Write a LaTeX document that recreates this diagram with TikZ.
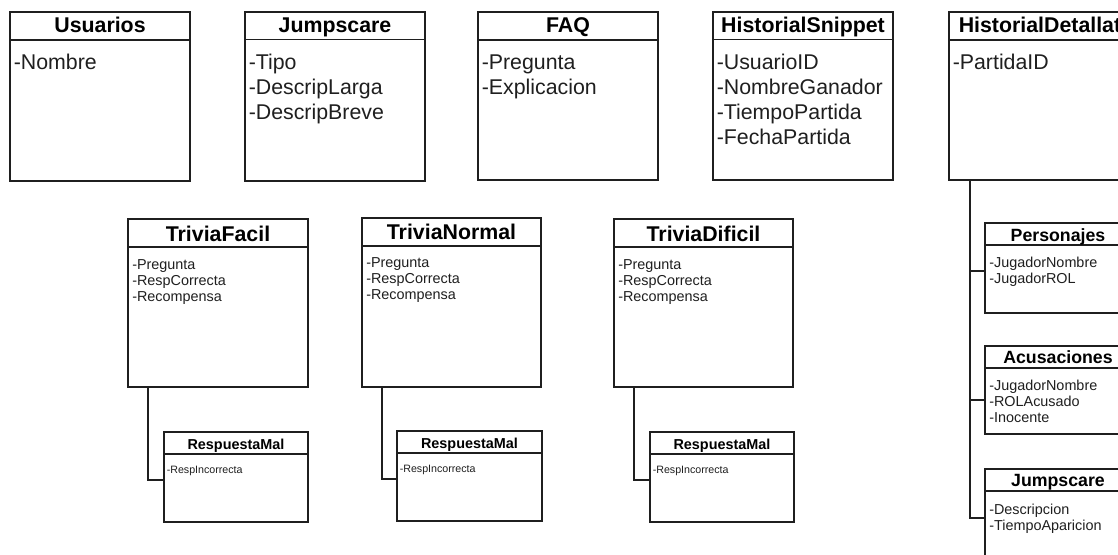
\documentclass[tikz,border=0pt]{standalone}
\usepackage{fontspec}
\setmainfont{Liberation Sans}
\usetikzlibrary{calc}

% class box: name, x, y, width, height, header height (all in px units)
\newcommand{\umlclass}[6]{%
  \node[classbox, minimum width={#4*0.75pt}, minimum height={#5*0.75pt}] (#1) at (#2,#3) {};
  \draw[line] ($(#1.north west)+(0,#6)$) -- ($(#1.north east)+(0,#6)$);
}
% attribute lines: box, style, dx, first baseline, spacing, list
\newcommand{\attrlist}[6]{%
  \foreach \a [count=\i from 0] in {#6}
    \node[#2] (#1-a\i) at ($(#1.north west)+(#3,#4+\i*#5)$) {\a};
}

\begin{document}
\begin{tikzpicture}[x=0.75pt,y=-0.75pt,
  line/.style={draw=black!88, line width=1.3pt},
  classbox/.style={line, fill=white, inner sep=0pt, outer sep=0pt, anchor=north west},
  bigtitle/.style={font=\bfseries\fontsize{16}{19}\selectfont, anchor=base, inner sep=0pt},
  midtitle/.style={font=\bfseries\fontsize{13.3}{16}\selectfont, anchor=base, inner sep=0pt},
  smalltitle/.style={font=\bfseries\fontsize{10.8}{13}\selectfont, anchor=base, inner sep=0pt},
  bigattr/.style={font=\fontsize{16}{19}\selectfont, anchor=base west, inner sep=0pt, text=black!88},
  midattr/.style={font=\fontsize{10.8}{12}\selectfont, anchor=base west, inner sep=0pt, text=black!88},
  smallattr/.style={font=\fontsize{8}{9}\selectfont, anchor=base west, inner sep=0pt, text=black!88},
]
\useasboundingbox (0,0) rectangle (1118,555);
\fill[white] (0,0) rectangle (1118,555);
\clip (0,0) rectangle (1118,555);

% top row
\umlclass{usu}{10}{12}{180}{169}{28}
\node[bigtitle] (usu-t) at ($(usu.north)+(0,21)$) {Usuarios};
\attrlist{usu}{bigattr}{3.5}{57.5}{25}{-Nombre}

\umlclass{jump}{245}{12}{180}{169}{27.5}
\node[bigtitle] (jump-t) at ($(jump.north)+(0,21)$) {Jumpscare};
\attrlist{jump}{bigattr}{3.5}{57.5}{25}{-Tipo,-DescripLarga,-DescripBreve}

\umlclass{faq}{478}{12}{180}{168}{28}
\node[bigtitle] (faq-t) at ($(faq.north)+(0,21)$) {FAQ};
\attrlist{faq}{bigattr}{3.5}{57.5}{25}{-Pregunta,-Explicacion}

\umlclass{hs}{713}{12}{180}{168}{27.5}
\node[bigtitle] (hs-t) at ($(hs.north)+(0,21)$) {HistorialSnippet};
\attrlist{hs}{bigattr}{3.5}{57.5}{25}{-UsuarioID,-NombreGanador,-TiempoPartida,-FechaPartida}

\umlclass{hd}{949}{12}{182}{168}{28}
\node[bigtitle] (hd-t) at ($(hd.north)+(0,21)$) {HistorialDetallat};
\attrlist{hd}{bigattr}{3.5}{57.5}{25}{-PartidaID}

% trivia row
\umlclass{tf}{128}{219}{180}{168}{28}
\node[bigtitle] (tf-t) at ($(tf.north)+(0,22.5)$) {TriviaFacil};
\attrlist{tf}{midattr}{4}{51}{16}{-Pregunta,-RespCorrecta,-Recompensa}

\umlclass{tn}{362}{218}{179}{169}{28}
\node[bigtitle] (tn-t) at ($(tn.north)+(0,22)$) {TriviaNormal};
\attrlist{tn}{midattr}{4}{50}{16}{-Pregunta,-RespCorrecta,-Recompensa}

\umlclass{td}{614}{219}{179}{168}{28}
\node[bigtitle] (td-t) at ($(td.north)+(0,22.5)$) {TriviaDificil};
\attrlist{td}{midattr}{4}{51}{16}{-Pregunta,-RespCorrecta,-Recompensa}

% wrong-answer boxes
\umlclass{r1}{164}{432}{144}{90}{22}
\node[smalltitle] (r1-t) at ($(r1.north)+(0,18)$) {RespuestaMal};
\attrlist{r1}{smallattr}{2.5}{42}{12}{-RespIncorrecta}

\umlclass{r2}{397}{431}{145}{90}{22}
\node[smalltitle] (r2-t) at ($(r2.north)+(0,18)$) {RespuestaMal};
\attrlist{r2}{smallattr}{2.5}{41.5}{12}{-RespIncorrecta}

\umlclass{r3}{650}{432}{144}{90}{22}
\node[smalltitle] (r3-t) at ($(r3.north)+(0,18)$) {RespuestaMal};
\attrlist{r3}{smallattr}{2.5}{42}{12}{-RespIncorrecta}

% detail boxes on the right
\umlclass{pers}{985}{223}{146}{90}{22}
\node[midtitle] (pers-t) at ($(pers.north)+(0,18.5)$) {Personajes};
\attrlist{pers}{midattr}{4}{45}{16}{-JugadorNombre,-JugadorROL}

\umlclass{acus}{985}{346}{146}{88}{22}
\node[midtitle] (acus-t) at ($(acus.north)+(0,18)$) {Acusaciones};
\attrlist{acus}{midattr}{4}{45}{16}{-JugadorNombre,-ROLAcusado,-Inocente}

\umlclass{js2}{985}{469}{146}{110}{22}
\node[midtitle] (js2-t) at ($(js2.north)+(0,18)$) {Jumpscare};
\attrlist{js2}{midattr}{4}{45.5}{16}{-Descripcion,-TiempoAparicion}

% connectors
\draw[line] ($(tf.south west)+(20,0)$) |- ($(r1.north west)+(0,48)$);
\draw[line] ($(tn.south west)+(20,0)$) |- ($(r2.north west)+(0,48)$);
\draw[line] ($(td.south west)+(20,0)$) |- ($(r3.north west)+(0,48)$);

\coordinate (trunk) at ($(hd.south west)+(21,0)$);
\coordinate (pb) at ($(pers.north west)+(0,48)$);
\coordinate (ab) at ($(acus.north west)+(0,54)$);
\coordinate (jb) at ($(js2.north west)+(0,49)$);
\draw[line] (trunk) |- (jb);
\draw[line] (trunk |- pb) -- (pb);
\draw[line] (trunk |- ab) -- (ab);
\end{tikzpicture}
\end{document}
